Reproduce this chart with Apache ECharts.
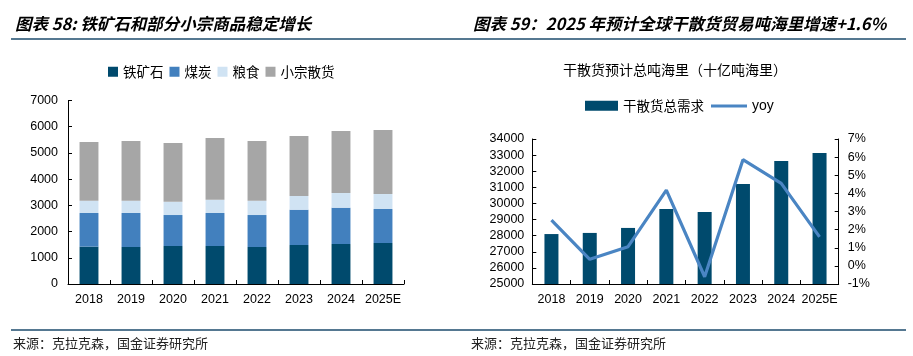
<!DOCTYPE html>
<html>
<head>
<meta charset="utf-8">
<script src="https://cdn.jsdelivr.net/npm/echarts@6/dist/echarts.min.js"></script>
<style>
html,body{margin:0;padding:0;background:#fff;}
#main{width:913px;height:356px;}
</style>
</head>
<body>
<div id="main"></div>
<script>
// ---- data ----
const categories = ['2018', '2019', '2020', '2021', '2022', '2023', '2024', '2025E'];
const ironOre   = [1424, 1411, 1449, 1449, 1411, 1487, 1525, 1564];
const coal      = [1284, 1297, 1182, 1259, 1220, 1348, 1386, 1296];
const grain     = [470, 470, 509, 508, 547, 521, 559, 572];
const minorBulk = [2237, 2275, 2237, 2352, 2275, 2288, 2365, 2441];
const dryBulkDemand = [28100, 28170, 28480, 29660, 29470, 31210, 32640, 33130];
const yoy = [2.53, 0.36, 1.06, 4.18, -0.6, 5.86, 4.55, 1.6];

const leftTitle = '图表 58: 铁矿石和部分小宗商品稳定增长';
const rightTitle = '图表 59：2025 年预计全球干散货贸易吨海里增速+1.6%';
const rightSubtitle = '干散货预计总吨海里（十亿吨海里）';
const sourceText = '来源：克拉克森，国金证券研究所';

// ---- chart ----
const FONT = '"Liberation Sans", "Noto Sans CJK SC", sans-serif';
const CJK = '"Noto Sans CJK SC", "Liberation Sans", sans-serif';
const lineColor = '#1d4b6c';
const chart = echarts.init(document.getElementById('main'), null, {renderer: 'canvas'});

const axisLabel = {color: '#000', fontSize: 12.5, fontFamily: FONT};
const axisLine = {show: true, onZero: false, lineStyle: {color: '#000', width: 1}};
const tick = {show: true, inside: true, length: 4, lineStyle: {color: '#000'}};
const plain = function (v) { return String(v); };

chart.setOption({
  backgroundColor: '#fff',
  animation: false,
  textStyle: {fontFamily: FONT},
  graphic: [
    {type: 'text', left: 15, top: 15, style: {text: leftTitle, font: 'italic bold 16.5px ' + CJK, fill: '#000'}},
    {type: 'text', left: 473, top: 15, style: {text: rightTitle, font: 'italic bold 16.5px ' + CJK, fill: '#000'}},
    {type: 'line', shape: {x1: 11, y1: 39, x2: 906, y2: 39}, style: {stroke: lineColor, lineWidth: 1.5}},
    {type: 'line', shape: {x1: 11, y1: 330, x2: 906, y2: 330}, style: {stroke: lineColor, lineWidth: 1.5}},
    {type: 'text', left: 13, top: 337, style: {text: sourceText, font: '13px ' + CJK, fill: '#222'}},
    {type: 'text', left: 471, top: 337, style: {text: sourceText, font: '13px ' + CJK, fill: '#222'}},
    {type: 'text', x: 675, y: 70, style: {text: rightSubtitle, font: '14px ' + CJK, fill: '#000', textAlign: 'center', textVerticalAlign: 'middle'}}
  ],
  legend: [
    {
      data: ['铁矿石', '煤炭', '粮食', '小宗散货'],
      left: 108, top: 65, padding: 0,
      itemWidth: 10, itemHeight: 10, itemGap: 6, icon: 'rect',
      textStyle: {fontSize: 13.5, fontFamily: CJK, color: '#000'}
    },
    {
      data: ['干散货总需求'],
      left: 585, top: 99, padding: 0,
      itemWidth: 33, itemHeight: 10, icon: 'rect',
      textStyle: {fontSize: 13.5, fontFamily: CJK, color: '#000'}
    },
    {
      data: [{name: 'yoy', icon: 'rect'}],
      left: 711, top: 99, padding: 0,
      itemWidth: 36, itemHeight: 3,
      textStyle: {fontSize: 14, fontFamily: FONT, color: '#000'}
    }
  ],
  grid: [
    {left: 68, top: 100.5, width: 336, height: 183.5, containLabel: false},
    {left: 532.3, top: 139, width: 306.4, height: 145, containLabel: false}
  ],
  xAxis: [
    {
      type: 'category', gridIndex: 0, data: categories,
      axisLine: axisLine, axisTick: tick,
      axisLabel: Object.assign({margin: 9, interval: 0}, axisLabel)
    },
    {
      type: 'category', gridIndex: 1, data: categories,
      axisLine: axisLine, axisTick: tick,
      axisLabel: Object.assign({margin: 9, interval: 0}, axisLabel)
    }
  ],
  yAxis: [
    {
      type: 'value', gridIndex: 0, min: 0, max: 7000, interval: 1000,
      axisLine: axisLine, axisTick: tick,
      splitLine: {show: false},
      axisLabel: Object.assign({margin: 10, formatter: plain}, axisLabel)
    },
    {
      type: 'value', gridIndex: 1, min: 25000, max: 34000, interval: 1000,
      axisLine: axisLine, axisTick: tick,
      splitLine: {show: false},
      axisLabel: Object.assign({margin: 8, formatter: plain}, axisLabel)
    },
    {
      type: 'value', gridIndex: 1, position: 'right', min: -1, max: 7, interval: 1,
      axisLine: axisLine, axisTick: tick,
      splitLine: {show: false},
      axisLabel: Object.assign({margin: 9, formatter: '{value}%'}, axisLabel)
    }
  ],
  series: [
    {name: '铁矿石', type: 'bar', stack: 'a', xAxisIndex: 0, yAxisIndex: 0, barWidth: '45%', data: ironOre, itemStyle: {color: '#004a6d'}},
    {name: '煤炭', type: 'bar', stack: 'a', xAxisIndex: 0, yAxisIndex: 0, data: coal, itemStyle: {color: '#4280be'}},
    {name: '粮食', type: 'bar', stack: 'a', xAxisIndex: 0, yAxisIndex: 0, data: grain, itemStyle: {color: '#d0e3f3'}},
    {name: '小宗散货', type: 'bar', stack: 'a', xAxisIndex: 0, yAxisIndex: 0, data: minorBulk, itemStyle: {color: '#a6a6a6'}},
    {name: '干散货总需求', type: 'bar', xAxisIndex: 1, yAxisIndex: 1, barWidth: 14, data: dryBulkDemand, itemStyle: {color: '#004a6d'}},
    {name: 'yoy', type: 'line', xAxisIndex: 1, yAxisIndex: 2, data: yoy, symbol: 'none', showSymbol: false,
     lineStyle: {color: '#4a85c3', width: 3.2}, itemStyle: {color: '#4a85c3'}, z: 5}
  ]
});
</script>
</body>
</html>
